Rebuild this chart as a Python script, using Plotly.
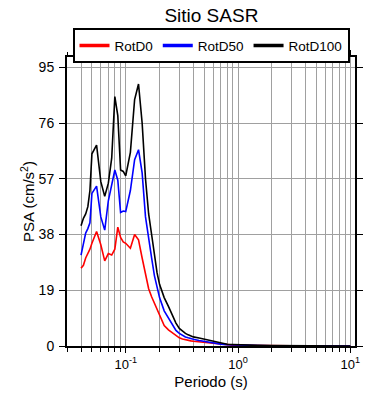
import plotly.graph_objects as go

periods = [0.04, 0.042, 0.044, 0.046, 0.048, 0.05, 0.055, 0.06, 0.065, 0.07, 0.075,
           0.08, 0.085, 0.09, 0.095, 0.1, 0.11, 0.12, 0.13, 0.14, 0.15, 0.16, 0.17,
           0.18, 0.19, 0.2, 0.22, 0.24, 0.26, 0.28, 0.3, 0.32, 0.34, 0.36, 0.38, 0.4,
           0.45, 0.5, 0.6, 0.7, 0.8, 0.9, 1.0, 1.2, 1.5, 2.0, 3.0, 4.0, 5.0, 7.5, 10.0]

rotd0 = [26.5, 27.5, 30, 31.5, 33, 35, 39, 34.5, 29, 31.5, 31,
         33, 40.5, 37, 35.5, 35, 33.3, 38, 36.2, 30, 24.5, 19.5, 16.8,
         14.7, 13, 11, 7, 5.5, 4.5, 3.4, 2.8, 2.4, 2.1, 1.9, 1.75, 1.6,
         1.4, 1.2, 0.8, 0.55, 0.4, 0.3, 0.25, 0.18, 0.12, 0.08, 0.05, 0.03, 0.02, 0.015, 0.01]

rotd50 = [31, 35.5, 38.5, 40, 42, 52, 54.5, 44, 39.5, 49.5, 55.5,
          60, 56.5, 45.5, 46, 45.8, 53, 63.5, 66.9, 59, 44, 37.5, 30,
          24, 19.5, 16.5, 12, 9.5, 7, 5.3, 4.3, 3.6, 3.1, 2.8, 2.5, 2.3,
          1.9, 1.6, 1.0, 0.65, 0.48, 0.38, 0.3, 0.22, 0.15, 0.1, 0.06, 0.04, 0.03, 0.02, 0.015]

rotd100 = [41, 43.5, 45, 47.5, 53, 65.5, 68.5, 56, 51, 55.5, 64,
           85, 78.5, 60, 59.5, 58, 66, 84, 89.3, 76, 57, 45, 38,
           31.5, 25, 21, 16.5, 13.5, 10.5, 7.8, 6, 5, 4.3, 3.8, 3.4, 3.1,
           2.7, 2.3, 1.5, 0.9, 0.6, 0.5, 0.4, 0.3, 0.2, 0.12, 0.07, 0.05, 0.04, 0.03, 0.02]

series_names = ["RotD0", "RotD50", "RotD100"]
series_colors = ["#ff0000", "#0000ff", "#000000"]

y_ticks = [0, 19, 38, 57, 76, 95]
x_major = [0.1, 1, 10]
x_major_text = ["10<sup>-1</sup>", "10<sup>0</sup>", "10<sup>1</sup>"]
x_minor = [0.03, 0.04, 0.05, 0.06, 0.07, 0.08, 0.09,
           0.2, 0.3, 0.4, 0.5, 0.6, 0.7, 0.8, 0.9,
           2, 3, 4, 5, 6, 7, 8, 9]

FONT = "Liberation Sans, Arial, Helvetica, sans-serif"
GRID = "#a0a0a0"

fig = go.Figure()
for name, vals, col in zip(series_names, [rotd0, rotd50, rotd100], series_colors):
    fig.add_trace(go.Scatter(x=periods, y=vals, mode="lines", name=name,
                             line=dict(color=col, width=1.6), showlegend=False))
# legend entries with thicker line samples
for name, col in zip(series_names, series_colors):
    fig.add_trace(go.Scatter(x=[None], y=[None], mode="lines", name=name,
                             line=dict(color=col, width=3.5), showlegend=True))

fig.update_layout(
    width=390, height=400,
    margin=dict(l=67, r=34.5, t=57, b=54, autoexpand=False),
    paper_bgcolor="white", plot_bgcolor="white",
    font=dict(family=FONT, color="black", size=13),
    title=dict(text="Sitio SASR", x=0.542, xanchor="center", y=0.962, yanchor="middle",
               font=dict(size=19, family=FONT, color="black")),
    legend=dict(orientation="h", x=0.5, xanchor="center", y=1.1, yanchor="top",
                bordercolor="black", borderwidth=2, font=dict(size=13.5, family=FONT),
                bgcolor="white", itemwidth=30, tracegroupgap=0),
    showlegend=True,
)

fig.update_xaxes(
    type="log", range=[-1.5229, 1.0414], automargin=False,
    tickmode="array", tickvals=x_major, ticktext=x_major_text,
    ticks="outside", ticklen=5, tickcolor="black", tickwidth=1,
    showline=True, linecolor="black", linewidth=2, mirror="allticks",
    showgrid=True, gridcolor=GRID, gridwidth=1,
    minor=dict(tickmode="array", tickvals=x_minor, ticks="outside", ticklen=3.5,
               tickcolor="black", showgrid=True, gridcolor=GRID, gridwidth=1),
    tickfont=dict(size=13, family=FONT),
    title=dict(text="Periodo (s)", font=dict(size=15, family=FONT), standoff=6),
    zeroline=False,
)
fig.update_yaxes(
    range=[0, 98.5], tickmode="array", tickvals=y_ticks, automargin=False,
    ticks="outside", ticklen=6, tickcolor="black", tickwidth=1,
    showline=True, linecolor="black", linewidth=2, mirror="allticks",
    showgrid=True, gridcolor=GRID, gridwidth=1,
    tickfont=dict(size=14, family=FONT), ticklabelstandoff=2,
    title=dict(text="PSA (cm/s<sup>2</sup>)", font=dict(size=15, family=FONT), standoff=0),
    zeroline=False,
)

# remove the default 8px page margin so the figure sits at the window's corner
fig.write_html("out.html", config={"displayModeBar": False},
               post_script="document.body.style.margin='0px';")
